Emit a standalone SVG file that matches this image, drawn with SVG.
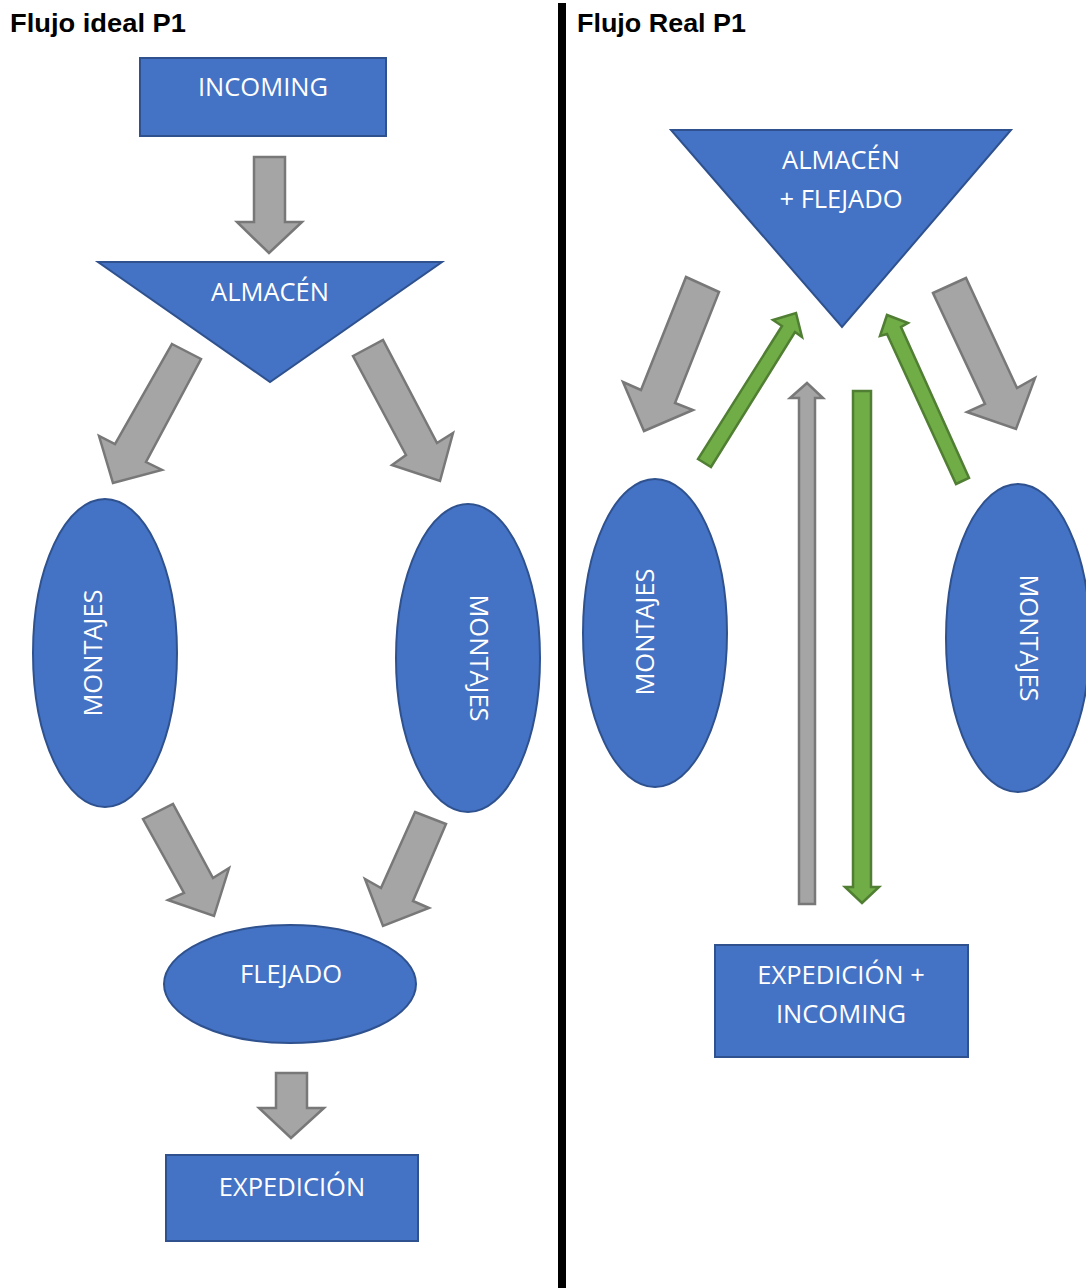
<svg xmlns="http://www.w3.org/2000/svg" width="1086" height="1288" viewBox="0 0 1086 1288">
<style>
.title{font-family:"Liberation Sans",Arial,sans-serif;font-weight:bold;font-size:25px;fill:#000}
.node{fill:#4472C4;stroke:#2F528F;stroke-width:2}
.lbl{font-family:"Open Sans","Liberation Sans",sans-serif;font-size:25.5px;fill:#fff;text-anchor:middle}
.gray{fill:#A5A5A5;stroke:#787878;stroke-width:2.5;stroke-linejoin:miter}
.green{fill:#70AD47;stroke:#507E32;stroke-width:2.5;stroke-linejoin:miter}
</style>
<rect width="1086" height="1288" fill="#fff"/>
<rect x="558" y="3" width="8" height="1285" fill="#000"/>
<text class="title" x="10" y="32" textLength="176" lengthAdjust="spacingAndGlyphs">Flujo ideal P1</text>
<text class="title" x="577" y="32" textLength="169" lengthAdjust="spacingAndGlyphs">Flujo Real P1</text>

<g id="connectors">
  <polygon class="gray" points="254,157 285,157 285,222 302,222 269,253 237,222 254,222"/>
  <polygon class="gray" points="172,344 201,359 146,462 162,470 113,483 99,436 115,444"/>
  <polygon class="gray" points="353,356 383,340 437,443 453,433 440,481 392,465 406,455"/>
  <polygon class="gray" points="143,819 173,804 213,878 229,868 214,916 168,900 184,893"/>
  <polygon class="gray" points="415,812 446,824 413,901 429,908 383,926 365,879 381,888"/>
  <polygon class="gray" points="276,1073 307,1073 307,1108 324,1108 291,1138 259,1108 276,1108"/>
  <polygon class="gray" points="686,277 719,292 675,403 693,410 644,431 623,382 641,390"/>
  <polygon class="gray" points="933,293 966,278 1017,388 1035,378 1016,429 967,412 985,404"/>
  <polygon class="green" points="698,459 711,467 795,332 802,337 796,313 773,320 782,326"/>
  <polygon class="green" points="956,484 969,478 901,327 908,323 887,315 880,336 887,334"/>
  <polygon class="gray" points="799,904 815,904 815,398 823,398 807,383 790,398 799,398"/>
  <polygon class="green" points="853,391 871,391 871,887 879,887 862,903 845,887 853,887"/>
</g>

<g id="incoming">
  <rect class="node" x="140" y="58" width="246" height="78"/>
  <text class="lbl" x="263" y="96">INCOMING</text>
</g>
<g id="almacen">
  <polygon class="node" points="98,262 442,262 270,382"/>
  <text class="lbl" x="270" y="301">ALMACÉN</text>
</g>
<g id="montajes-left">
  <ellipse class="node" cx="105" cy="653" rx="72" ry="154"/>
  <text class="lbl" transform="translate(102,653) rotate(-90)">MONTAJES</text>
</g>
<g id="montajes-right">
  <ellipse class="node" cx="468" cy="658" rx="72" ry="154"/>
  <text class="lbl" transform="translate(470,658) rotate(90)">MONTAJES</text>
</g>
<g id="flejado">
  <ellipse class="node" cx="290" cy="984" rx="126" ry="59"/>
  <text class="lbl" x="291" y="983">FLEJADO</text>
</g>
<g id="expedicion">
  <rect class="node" x="166" y="1155" width="252" height="86"/>
  <text class="lbl" x="292" y="1196">EXPEDICIÓN</text>
</g>

<g id="almacen-flejado">
  <polygon class="node" points="671,130 1011,130 842,327"/>
  <text class="lbl" x="841" y="169">ALMACÉN</text>
  <text class="lbl" x="841" y="208">+ FLEJADO</text>
</g>
<g id="montajes-real-left">
  <ellipse class="node" cx="655" cy="633" rx="72" ry="154"/>
  <text class="lbl" transform="translate(654,632) rotate(-90)">MONTAJES</text>
</g>
<g id="montajes-real-right">
  <ellipse class="node" cx="1018" cy="638" rx="72" ry="154"/>
  <text class="lbl" transform="translate(1020,638) rotate(90)">MONTAJES</text>
</g>
<g id="expedicion-incoming">
  <rect class="node" x="715" y="945" width="253" height="112"/>
  <text class="lbl" x="841" y="984">EXPEDICIÓN +</text>
  <text class="lbl" x="841" y="1023">INCOMING</text>
</g>
</svg>
